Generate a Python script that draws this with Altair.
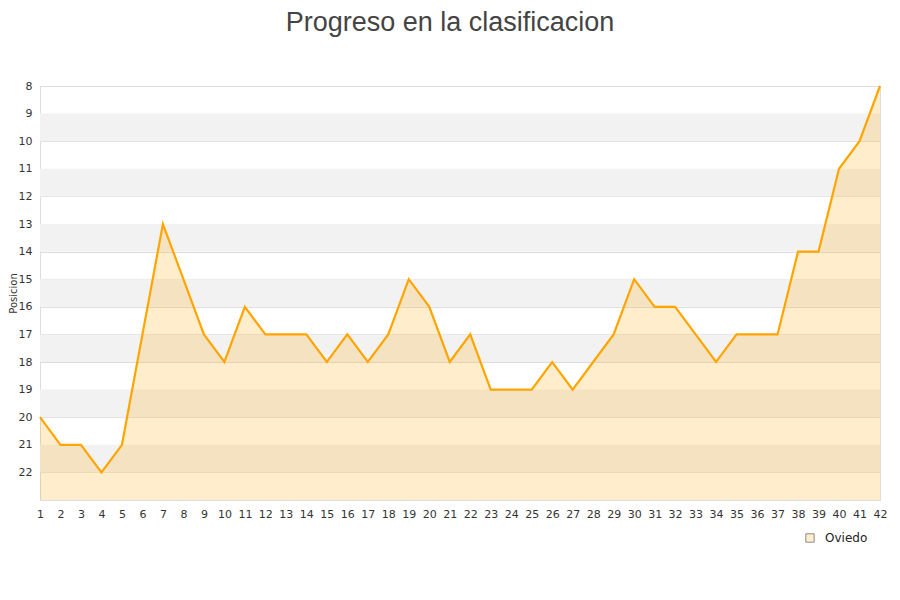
import altair as alt
import pandas as pd

JORNADAS = list(range(1, 43))
POSICIONES = [
    20, 21, 21, 22, 21, 17, 13, 15, 17, 18,
    16, 17, 17, 17, 18, 17, 18, 17, 15, 16,
    18, 17, 19, 19, 19, 18, 19, 18, 17, 15,
    16, 16, 17, 18, 17, 17, 17, 14, 14, 11,
    10, 8,
]
EQUIPO = "Oviedo"
BAND_STARTS = [9, 11, 13, 15, 17, 19, 21]
Y_TICKS = list(range(8, 23))

df = pd.DataFrame({"jornada": JORNADAS, "posicion": POSICIONES, "equipo": EQUIPO})
bands = pd.DataFrame({"y": BAND_STARTS, "y2": [b + 1 for b in BAND_STARTS]})

FONT = "DejaVu Sans"

x_scale = alt.Scale(domain=[1, 42], nice=False, zero=False)
y_scale = alt.Scale(domain=[8, 23], reverse=True, nice=False, zero=False)

x_axis = alt.Axis(
    values=JORNADAS, title=None, ticks=False, grid=False,
    labelPadding=8, labelFontSize=11, labelColor="#333",
    labelFont=FONT, domainColor="#dddddd", labelFlush=False,
    labelOverlap=False, labelSeparation=0,
)
y_axis = alt.Axis(
    values=Y_TICKS, title="Posicion", ticks=False,
    labelPadding=8, labelFontSize=11, labelColor="#333",
    labelFont=FONT, labelOverlap=False, labelSeparation=0,
    titleFont=FONT, titleFontSize=10,
    titleFontWeight="normal", titleColor="#333",
    titleX=-27, titleY=207, titleAlign="center",
    titleBaseline="middle", titleAngle=270,
    gridColor="#dddddd", domainColor="#dddddd",
)

x_enc = alt.X("jornada:Q", scale=x_scale, axis=x_axis)
y_enc = alt.Y("posicion:Q", scale=y_scale, axis=y_axis)

band_layer = (
    alt.Chart(bands)
    .mark_rect(color="#f2f2f2")
    .encode(
        x=alt.datum(1, scale=x_scale, axis=x_axis),
        x2=alt.datum(42),
        y=alt.Y("y:Q", scale=y_scale, axis=y_axis),
        y2="y2:Q",
    )
)

area = (
    alt.Chart(df)
    .mark_area(color="#FFA500", opacity=0.2)
    .encode(x=x_enc, y=y_enc, y2=alt.datum(23))
)

line = (
    alt.Chart(df)
    .mark_line(color="#FFA500", strokeWidth=2.2)
    .encode(x=x_enc, y=y_enc)
)

# invisible layer that only carries the legend entry
legend_layer = (
    alt.Chart(df)
    .mark_square(opacity=0)
    .encode(
        x=x_enc,
        y=y_enc,
        fill=alt.Fill(
            "equipo:N",
            scale=alt.Scale(range=["#FFEDCC"]),
            legend=alt.Legend(
                title=None, orient="none", legendX=764, legendY=446,
                symbolType="square", symbolSize=70, labelOffset=9,
                symbolOpacity=1, symbolStrokeColor="#8a8a8a",
                symbolStrokeWidth=1,
                labelFont=FONT, labelFontSize=12, labelColor="#222",
            ),
        ),
    )
)

chart = (
    alt.layer(band_layer, area, line, legend_layer)
    .properties(
        width=840,
        height=414,
        autosize=alt.AutoSizeParams(type="none"),
        padding={"left": 32, "top": 78, "right": 12, "bottom": 86},
        title=alt.TitleParams(
            "Progreso en la clasificacion",
            font="Liberation Sans", fontSize=27, fontWeight="normal",
            color="#444", anchor="middle", offset=43, dx=-10,
        ),
    )
    .configure_view(stroke="#dddddd")
)

chart.save("out.html", embed_options={"renderer": "svg", "actions": False})
